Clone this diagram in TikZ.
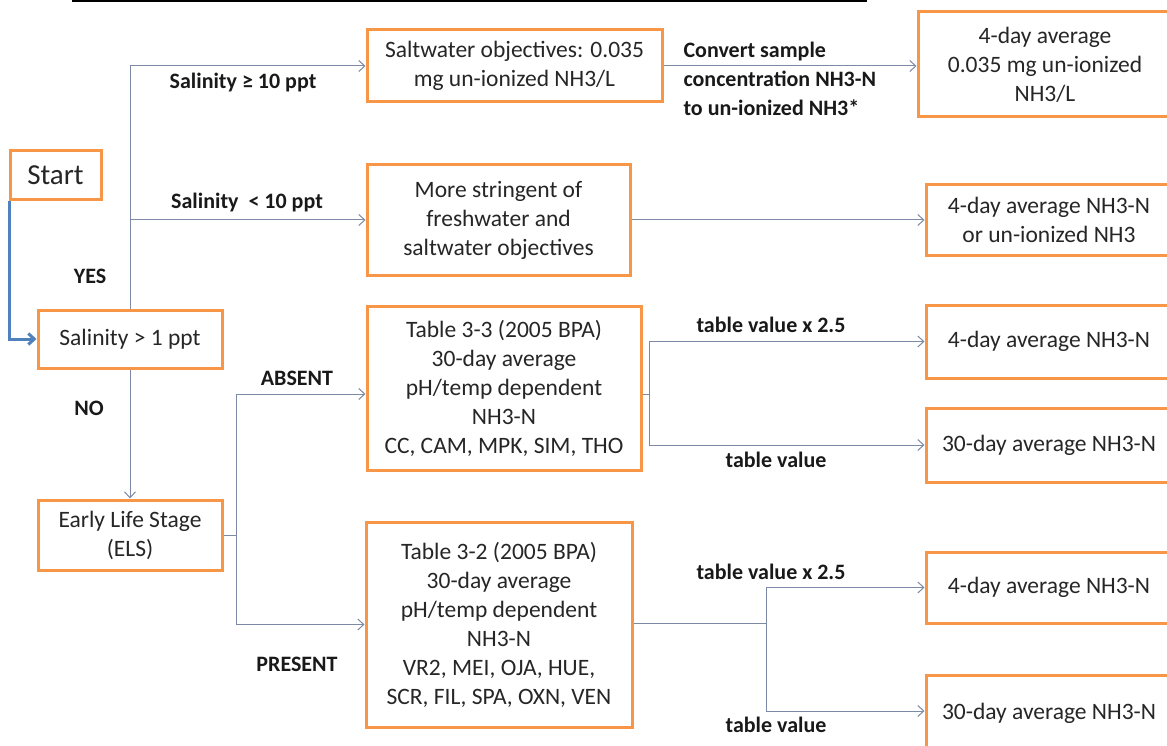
\documentclass[tikz,border=0pt]{standalone}
\usepackage{fontspec}
\setmainfont{Carlito}
\usepackage{xcolor}
\usepackage{tikz}
\definecolor{boxorange}{RGB}{247, 150, 70}
\definecolor{linkgray}{RGB}{125, 138, 165}
\definecolor{startblue}{RGB}{79, 129, 189}
\usetikzlibrary{arrows.meta, positioning, calc}

\begin{document}
\begin{tikzpicture}[
    x=1pt, y=-1pt,
    box/.style={rectangle, draw=boxorange, line width=3pt, fill=white, align=center, text=black!85, font=\fontsize{23.5}{29}\selectfont, inner sep=2pt},
    link/.style={draw=linkgray, line width=1pt, -{Straight Barb[length=6pt, width=11pt]}},
    tag/.style={font=\fontsize{22}{29}\selectfont\bfseries, text=black!90}
]
    \useasboundingbox (0,0) rectangle (1167,746);
    \clip (0,0) rectangle (1167,746);

    % Rule at the top
    \draw[line width=2.5pt] (72,1) -- (867,1);

    % Left column
    \node[box, minimum width=91pt, minimum height=49pt, font=\fontsize{29}{34}\selectfont] (start) at (55.5,175.5) {Start};
    \node[box, minimum width=184pt, minimum height=58pt] (sal1) at (130,339) {Salinity > 1 ppt};
    \node[box, minimum width=184pt, minimum height=70pt] (els) at (130,535) {Early Life Stage\\(ELS)};

    % Objectives
    \node[box, minimum width=295pt, minimum height=72pt] (salt) at (514.5,66) {Saltwater objectives: 0.035\\mg un-ionized NH3/L};
    \node[box, minimum width=263pt, minimum height=110pt] (strict) at (498.5,220) {More stringent of\\freshwater and\\saltwater objectives};
    \node[box, minimum width=274pt, minimum height=164pt] (t33) at (504,388) {Table 3-3 (2005 BPA)\\30-day average\\pH/temp dependent\\NH3-N\\CC, CAM, MPK, SIM, THO};
    \node[box, minimum width=266pt, minimum height=205pt] (t32) at (499,624.5) {Table 3-2 (2005 BPA)\\30-day average\\pH/temp dependent\\NH3-N\\VR2, MEI, OJA, HUE,\\SCR, FIL, SPA, OXN, VEN};

    % Results
    \node[box, minimum width=254pt, minimum height=105pt] (avg4a) at (1045,64.5) {4-day average\\0.035 mg un-ionized\\NH3/L};
    \node[box, minimum width=246pt, minimum height=70pt] (avg4b) at (1049,220) {4-day average NH3-N\\or un-ionized NH3};
    \node[box, minimum width=246pt, minimum height=73pt] (t33a) at (1049,341.5) {4-day average NH3-N};
    \node[box, minimum width=246pt, minimum height=74pt] (t33b) at (1049,445) {30-day average NH3-N};
    \node[box, minimum width=246pt, minimum height=71pt] (t32a) at (1049,587.5) {4-day average NH3-N};
    \node[box, minimum width=246pt, minimum height=76pt] (t32b) at (1049,713) {30-day average NH3-N};

    % Connectors
    \draw[startblue, line width=3pt, -{Straight Barb[length=6pt, width=11pt]}] ([xshift=1pt]start.south west) |- (sal1.west);
    \draw[link] (sal1.north) |- (salt.west);
    \draw[link] (sal1.north) |- (strict.west);
    \draw[link] (sal1.south) -- (els.north);
    \draw[link] (salt.east) -- (salt.east -| avg4a.west);
    \draw[link] (strict.east) -- (avg4b.west);

    \coordinate (elsfork) at (236,535);
    \draw[link, -] (els.east) -- (elsfork);
    \draw[link] (elsfork) |- ([yshift=-6pt]t33.west);
    \draw[link] (elsfork) |- (t32.west);

    \coordinate (fork33) at (649,394);
    \draw[link, -] ([yshift=-6pt]t33.east) -- (fork33);
    \draw[link] (fork33) |- (t33a.west);
    \draw[link] (fork33) |- (t33b.west);

    \coordinate (fork32) at (766,623);
    \draw[link, -] (t32.east |- fork32) -- (fork32);
    \draw[link] (fork32) |- (t32a.west);
    \draw[link] (fork32) |- ([yshift=2pt]t32b.west);

    % Labels
    \node[tag] (lgeq) at (243,83) {Salinity ≥ 10 ppt};
    \node[tag] (llt) at (247,203) {Salinity\ \ < 10 ppt};
    \node[tag] (lyes) at (90,276) {YES};
    \node[tag] (lno) at (89,408) {NO};
    \node[tag] (labs) at (297,378) {ABSENT};
    \node[tag] (lpres) at (297,664) {PRESENT};
    \node[tag, anchor=west, align=left] (lconv) at (680,79) {Convert sample\\concentration NH3-N\\to un-ionized NH3*};
    \node[tag] (lx33) at (771,325) {table value x 2.5};
    \node[tag] (lv33) at (776,460) {table value};
    \node[tag] (lx32) at (771,572) {table value x 2.5};
    \node[tag] (lv32) at (776,725) {table value};
\end{tikzpicture}
\end{document}
